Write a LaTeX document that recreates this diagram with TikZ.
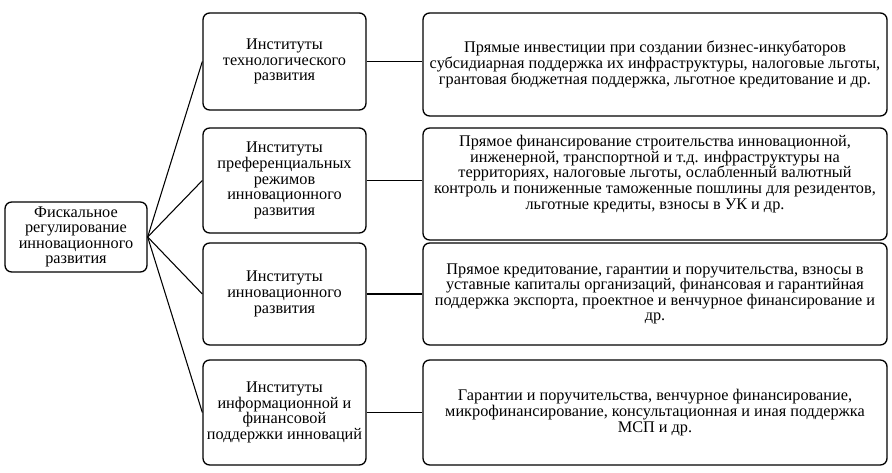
\documentclass[tikz,border=0pt]{standalone}
\usepackage{fontspec}
\setmainfont{Liberation Serif}
\begin{document}
\begin{tikzpicture}[x=0.75pt,y=-0.75pt,
  box/.style={draw, line width=1pt, rounded corners=5pt, align=center, inner sep=2pt,
    font=\fontsize{12.2}{11.7}\selectfont},
  link/.style={line width=0.8pt}]
\useasboundingbox (0,0) rectangle (892,473);
\node[box, minimum width=106.5pt, minimum height=52.5pt] (f) at (76,237)
  {Фискальное\\регулирование\\инновационного\\развития};
\node[box, minimum width=122.25pt, minimum height=72.75pt] (m1) at (284.5,61.5)
  {Институты\\технологического\\развития};
\node[box, minimum width=122.25pt, minimum height=78.75pt] (m2) at (284.5,180.5)
  {Институты\\преференциальных\\режимов\\инновационного\\развития};
\node[box, minimum width=122.25pt, minimum height=76.5pt] (m3) at (284.5,294)
  {Институты\\инновационного\\развития};
\node[box, minimum width=122.25pt, minimum height=78.75pt] (m4) at (284.5,412.5)
  {Институты\\информационной и\\финансовой\\поддержки инноваций};
\node[box, minimum width=348pt, minimum height=77.25pt] (r1) at (655,64.5)
  {Прямые инвестиции при создании бизнес-инкубаторов\\субсидиарная поддержка их инфраструктуры, налоговые льготы,\\грантовая бюджетная поддержка, льготное кредитование и др.};
\node[box, minimum width=348pt, minimum height=84pt] (r2) at (655,184)
  {Прямое финансирование строительства инновационной,\\инженерной, транспортной и т.д. инфраструктуры на\\территориях, налоговые льготы, ослабленный валютный\\контроль и пониженные таможенные пошлины для резидентов,\\льготные кредиты, взносы в УК и др.\\[6pt]\mbox{}};
\node[box, minimum width=348pt, minimum height=76.5pt] (r3) at (655,294)
  {Прямое кредитование, гарантии и поручительства, взносы в\\уставные капиталы организаций, финансовая и гарантийная\\поддержка экспорта, проектное и венчурное финансирование и\\др.};
\node[box, minimum width=348pt, minimum height=78.75pt] (r4) at (655,412.5)
  {Гарантии и поручительства, венчурное финансирование,\\микрофинансирование, консультационная и иная поддержка\\МСП и др.};
\foreach \m in {m1,m2,m3,m4} {
  \draw[link] (f.east) -- (\m.west);
}
\draw[link, line width=1.3pt] (m1.east) -- (m1.east -| r1.west);
\draw[link] (m2.east) -- (m2.east -| r2.west);
\draw[link] (m3.east) -- (r3.west);
\draw[link] (m4.east) -- (r4.west);
\end{tikzpicture}
\end{document}
